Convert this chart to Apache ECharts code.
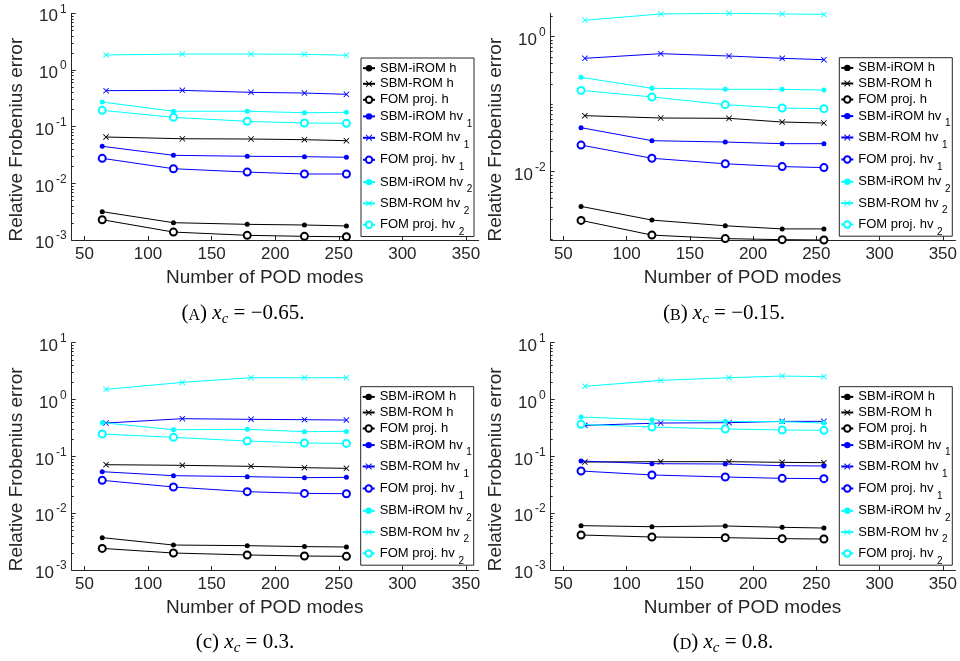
<!DOCTYPE html>
<html><head><meta charset="utf-8">
<script src="https://cdn.jsdelivr.net/npm/echarts@6/dist/echarts.min.js"></script>
<style>html,body{margin:0;padding:0;background:#fff}#c{width:960px;height:661px}</style>
</head><body><div id="c"></div>
<script>
// ---------- data ----------
const podModes = [64, 120, 178, 223, 256];      // SBM-iROM and FOM proj.
const podModesROM = [67, 127, 181, 223, 256];   // SBM-ROM
const xTicks = [50, 100, 150, 200, 250, 300, 350];
const seriesNames = ['SBM-iROM h', 'SBM-ROM h', 'FOM proj. h',
  'SBM-iROM hv1', 'SBM-ROM hv1', 'FOM proj. hv1',
  'SBM-iROM hv2', 'SBM-ROM hv2', 'FOM proj. hv2'];

// (A) x_c = -0.65
const aIromH   = [0.00316, 0.00202, 0.00189, 0.00184, 0.00177];
const aRomH    = [0.0656, 0.0612, 0.0605, 0.0589, 0.0565];
const aFomH    = [0.00228, 0.00138, 0.00121, 0.00116, 0.00114];
const aIromHv1 = [0.045, 0.0312, 0.0300, 0.0295, 0.0288];
const aRomHv1  = [0.432, 0.437, 0.403, 0.392, 0.372];
const aFomHv1  = [0.0276, 0.0181, 0.0158, 0.0146, 0.0146];
const aIromHv2 = [0.272, 0.187, 0.187, 0.176, 0.179];
const aRomHv2  = [1.84, 1.91, 1.91, 1.89, 1.82];
const aFomHv2  = [0.194, 0.146, 0.124, 0.116, 0.1145];

// (B) x_c = -0.15
const bIromH   = [0.00306, 0.00192, 0.00158, 0.00142, 0.00142];
const bRomH    = [0.0676, 0.0624, 0.0617, 0.0544, 0.0526];
const bFomH    = [0.00190, 0.00115, 0.00102, 0.000984, 0.000973];
const bIromHv1 = [0.0449, 0.0288, 0.0275, 0.0260, 0.0260];
const bRomHv1  = [0.478, 0.560, 0.517, 0.478, 0.456];
const bFomHv1  = [0.0248, 0.0158, 0.0131, 0.0119, 0.0115];
const bIromHv2 = [0.250, 0.172, 0.166, 0.166, 0.162];
const bRomHv2  = [1.75, 2.17, 2.22, 2.17, 2.14];
const bFomHv2  = [0.160, 0.128, 0.0984, 0.0878, 0.0858];

// (C) x_c = 0.3
const cIromH   = [0.00371, 0.00275, 0.00268, 0.00258, 0.00254];
const cRomH    = [0.0713, 0.0695, 0.0667, 0.0632, 0.0615];
const cFomH    = [0.00240, 0.00199, 0.00184, 0.00176, 0.00174];
const cIromHv1 = [0.0537, 0.0457, 0.0439, 0.0422, 0.0427];
const cRomHv1  = [0.386, 0.460, 0.448, 0.442, 0.435];
const cFomHv1  = [0.0378, 0.0289, 0.0239, 0.0223, 0.0220];
const cIromHv2 = [0.391, 0.294, 0.299, 0.272, 0.275];
const cRomHv2  = [1.51, 2.00, 2.42, 2.42, 2.42];
const cFomHv2  = [0.247, 0.216, 0.186, 0.172, 0.169];

// (D) x_c = 0.8
const dIromH   = [0.00603, 0.00578, 0.00595, 0.00564, 0.00548];
const dRomH    = [0.0794, 0.0806, 0.0806, 0.0784, 0.0774];
const dFomH    = [0.00413, 0.00381, 0.00371, 0.00356, 0.00351];
const dIromHv1 = [0.0828, 0.0743, 0.0733, 0.0685, 0.0676];
const dRomHv1  = [0.351, 0.386, 0.391, 0.413, 0.413];
const dFomHv1  = [0.0552, 0.0470, 0.0433, 0.0410, 0.0405];
const dIromHv2 = [0.492, 0.442, 0.413, 0.407, 0.386];
const dRomHv2  = [1.71, 2.17, 2.42, 2.59, 2.52];
const dFomHv2  = [0.366, 0.328, 0.303, 0.291, 0.287];

// ---------- styling / layout ----------
const FONT = 'Liberation Sans';
const AX = '#262626';
const COLORS = ['#000000', '#000000', '#000000', '#0000ff', '#0000ff', '#0000ff', '#00ffff', '#00ffff', '#00ffff'];
const CROSS = 'path://M0,1 L1,0 L5,4 L9,0 L10,1 L6,5 L10,9 L9,10 L5,6 L1,10 L0,9 L4,5 Z';
const KIND = ['irom', 'rom', 'fom', 'irom', 'rom', 'fom', 'irom', 'rom', 'fom'];

const panels = [
  {arrs: [aIromH, aRomH, aFomH, aIromHv1, aRomHv1, aFomHv1, aIromHv2, aRomHv2, aFomHv2],
   left: 71.7, top: 13.3, width: 407, height: 226.7, tight: false, lx: 361, ly: 58,
   cap: '{n|(}{sc|A}{n|) }{i|x}{s|c}{n| = −0.65.}', cx: 243, cy: 315},
  {arrs: [bIromH, bRomH, bFomH, bIromHv1, bRomHv1, bFomHv1, bIromHv2, bRomHv2, bFomHv2],
   left: 550.7, top: 13.3, width: 407, height: 226.7, tight: true, lx: 839.3, ly: 57.7,
   cap: '{n|(}{sc|B}{n|) }{i|x}{s|c}{n| = −0.15.}', cx: 724, cy: 315},
  {arrs: [cIromH, cRomH, cFomH, cIromHv1, cRomHv1, cFomHv1, cIromHv2, cRomHv2, cFomHv2],
   left: 71.7, top: 342.7, width: 407, height: 227.3, tight: false, lx: 360.7, ly: 386.7,
   cap: '{n|(c) }{i|x}{s|c}{n| = 0.3.}', cx: 245, cy: 644},
  {arrs: [dIromH, dRomH, dFomH, dIromHv1, dRomHv1, dFomHv1, dIromHv2, dRomHv2, dFomHv2],
   left: 550.7, top: 342.7, width: 407, height: 227.3, tight: false, lx: 839.3, ly: 386.7,
   cap: '{n|(}{sc|D}{n|) }{i|x}{s|c}{n| = 0.8.}', cx: 723, cy: 644}
];

const legendRows = [8.7, 24.3, 40.3, 56.3, 77.7, 99.7, 122, 143.3, 164.7];

const grid = [], xAxis = [], yAxis = [], series = [], legend = [], graphic = [];

function yLabelFmt(v) {
  const e = Math.round(Math.log10(v));
  return '{b|10}{e|' + e + '}';
}

panels.forEach((p, pi) => {
  grid.push({left: p.left, top: p.top, width: p.width, height: p.height, containLabel: false});
  let yMin = 1e-3, yMax = 10;
  if (p.tight) {
    const all = [].concat(...p.arrs);
    yMin = Math.min(...all); yMax = Math.max(...all);
  }
  let majors, labels, minors = [];
  if (p.tight) { majors = [0.01, 1]; labels = [0.01, 1]; }
  else { majors = [0.001, 0.01, 0.1, 1, 10]; labels = majors; }
  for (let e = -4; e <= 1; e++) {
    for (let m = 1; m <= 9; m++) {
      const v = +(m * Math.pow(10, e)).toPrecision(3);
      if (v >= yMin && v <= yMax && majors.indexOf(v) < 0) minors.push(v);
    }
  }
  xAxis.push({
    type: 'value', gridIndex: pi, min: 40, max: 360,
    axisLine: {show: true, lineStyle: {color: AX, width: 1}},
    axisTick: {show: true, inside: true, length: 4, customValues: xTicks, lineStyle: {color: AX}},
    axisLabel: {customValues: xTicks, fontSize: 17, fontFamily: FONT, color: AX, margin: 6},
    splitLine: {show: false},
    name: 'Number of POD modes', nameLocation: 'middle', nameGap: 28,
    nameTextStyle: {fontSize: 19, fontFamily: FONT, color: AX, padding: [0, 21, 0, 0]}
  });
  yAxis.push({
    type: 'log', logBase: 10, gridIndex: pi, position: 'left', min: yMin, max: yMax,
    axisLine: {show: true, lineStyle: {color: AX, width: 1}},
    axisTick: {show: true, inside: true, length: 4, customValues: majors, lineStyle: {color: AX}},
    axisLabel: {customValues: labels, formatter: yLabelFmt, margin: 5, color: AX,
      rich: {b: {fontSize: 17, fontFamily: FONT, color: AX, padding: [7, 0, 0, 0]},
             e: {fontSize: 12, fontFamily: FONT, color: AX, padding: [0, 0, 8, 2]}}},
    splitLine: {show: false}, minorTick: {show: false},
    name: 'Relative Frobenius error', nameLocation: 'middle', nameGap: 45,
    nameTextStyle: {fontSize: 19, fontFamily: FONT, color: AX, padding: [0, 26, 0, 0]}
  });
  yAxis.push({
    type: 'log', logBase: 10, gridIndex: pi, position: 'left', min: yMin, max: yMax,
    axisLine: {show: false},
    axisTick: {show: true, inside: true, length: 2, customValues: minors, lineStyle: {color: AX}},
    axisLabel: {show: false}, splitLine: {show: false}
  });
  const yIdx = pi * 2;
  p.arrs.forEach((arr, si) => {
    const xs = KIND[si] === 'rom' ? podModesROM : podModes;
    const k = KIND[si];
    series.push({
      type: 'line', name: seriesNames[si], xAxisIndex: pi, yAxisIndex: yIdx,
      data: arr.map((v, i) => [xs[i], v]),
      symbol: k === 'irom' ? 'circle' : (k === 'rom' ? CROSS : 'emptyCircle'),
      symbolSize: k === 'irom' ? 5 : (k === 'rom' ? 6 : 7),
      showSymbol: true,
      lineStyle: {color: COLORS[si], width: 1},
      itemStyle: {color: COLORS[si], borderWidth: k === 'fom' ? 1 : 0},
      emphasis: {disabled: true}, z: 3 + si
    });
  });
  // legend box
  graphic.push({type: 'rect', shape: {x: p.lx, y: p.ly, width: 113, height: 178.5},
    style: {fill: '#fff', stroke: AX, lineWidth: 1}, z: 1});
  seriesNames.forEach((nm, j) => {
    const hasSub = /hv\d$/.test(nm);
    const H = hasSub ? 24.8 : 13;
    const adj = hasSub ? 8 : 1.5;
    legend.push({
      data: [nm], orient: 'vertical', left: p.lx + 1, top: p.ly + legendRows[j] - H / 2 + adj,
      padding: 0, itemGap: 0, itemWidth: 12, itemHeight: 8, selectedMode: false, z: 5,
      formatter: n => {
        const m = n.match(/^(.*hv)(\d)$/);
        return m ? '{m|' + m[1] + ' }{s|' + m[2] + '}' : '{m|' + n + '}';
      },
      textStyle: {fontSize: 13, fontFamily: FONT, color: '#000',
        rich: {m: {fontSize: 13, fontFamily: FONT, color: '#000'},
               s: {fontSize: 10, fontFamily: FONT, color: '#000', padding: [14.8, 0, 0, 0]}}}
    });
  });
  graphic.push({type: 'text', x: p.cx, y: p.cy, z: 5,
    style: {text: p.cap, align: 'center', verticalAlign: 'middle', fill: '#000',
      rich: {
        n: {fontSize: 21, fontFamily: 'Liberation Serif', fill: '#000', verticalAlign: 'bottom', padding: [0, 0, 3, 0]},
        sc: {fontSize: 16, fontFamily: 'Liberation Serif', fill: '#000', verticalAlign: 'bottom', padding: [0, 0, 3, 0]},
        i: {fontSize: 21, fontFamily: 'Liberation Serif', fontStyle: 'italic', fill: '#000', verticalAlign: 'bottom', padding: [0, 0, 3, 0]},
        s: {fontSize: 15, fontFamily: 'Liberation Serif', fontStyle: 'italic', fill: '#000', verticalAlign: 'bottom'}
      }}});
});

const chart = echarts.init(document.getElementById('c'));
chart.setOption({
  animation: false, backgroundColor: '#fff',
  grid, xAxis, yAxis, series, legend, graphic
});
</script></body></html>
